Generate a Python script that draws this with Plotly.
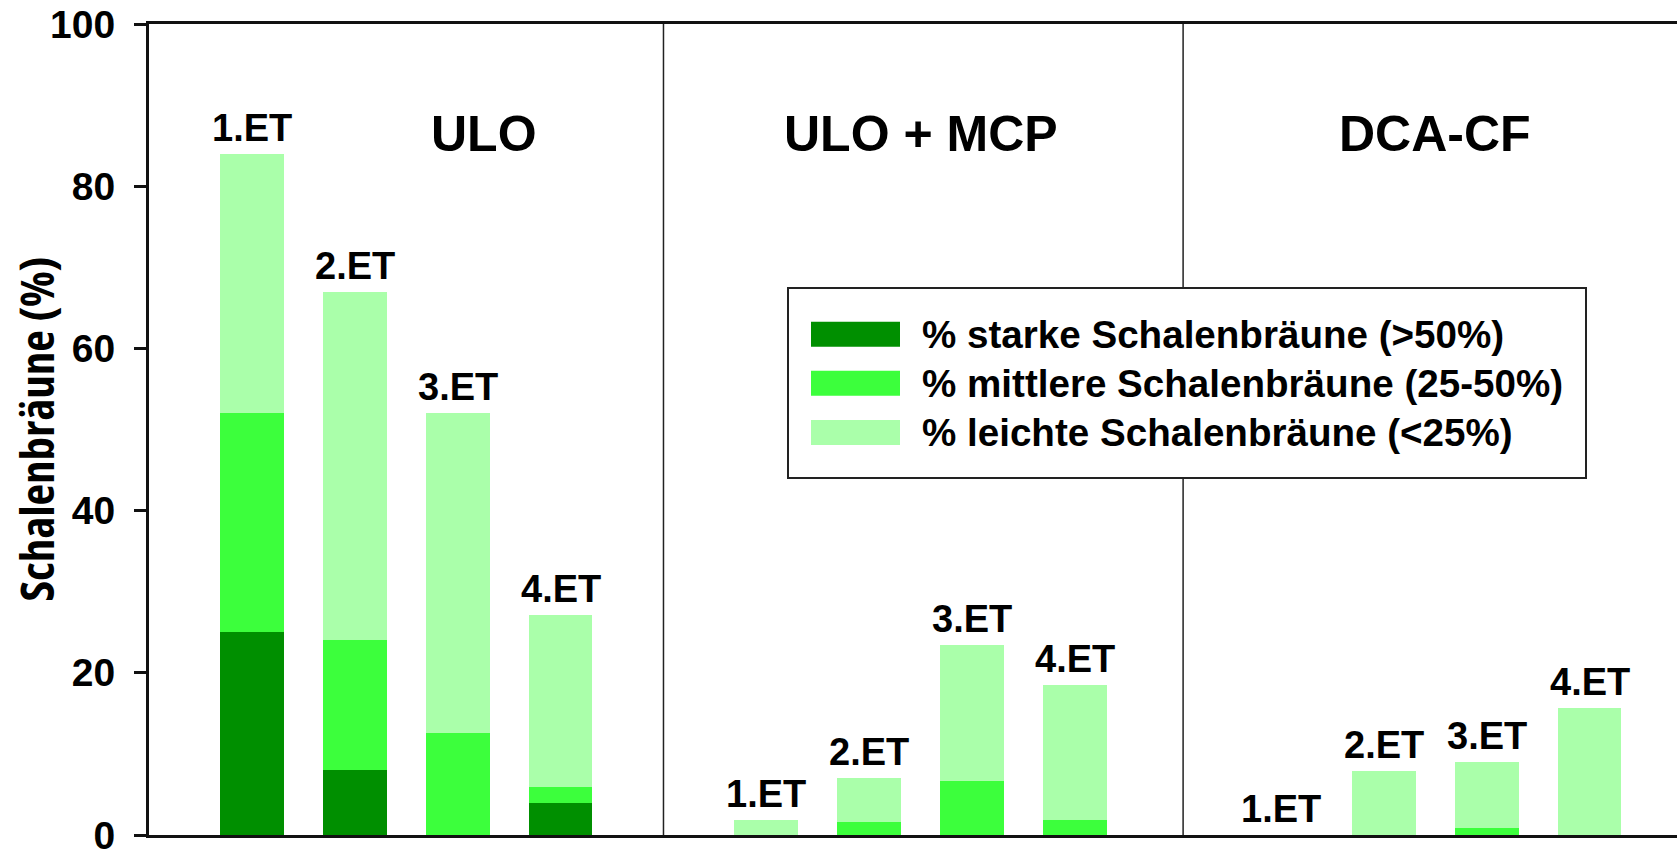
import plotly.graph_objects as go

# Storage groups and the four evaluation dates shown in each group
groups = ["ULO", "ULO + MCP", "DCA-CF"]
stages = ["1.ET", "2.ET", "3.ET", "4.ET"]

# Share of fruit (%) per class, in order ULO 1-4, ULO+MCP 1-4, DCA-CF 1-4
starke = [25.0, 8.0, 0.0, 4.0, 0.0, 0.0, 0.0, 0.0, 0.0, 0.0, 0.0, 0.0]
mittlere = [27.0, 16.0, 12.6, 1.9, 0.0, 1.6, 6.6, 1.9, 0.0, 0.0, 0.9, 0.0]
leichte = [32.0, 43.0, 39.4, 21.2, 1.9, 5.4, 16.8, 16.6, 0.0, 7.9, 8.1, 15.6]

series_names = [
    "% starke Schalenbräune (>50%)",
    "% mittlere Schalenbräune (25-50%)",
    "% leichte Schalenbräune (<25%)",
]
colors = ["#008F00", "#3CFF3C", "#AAFFAA"]

FONT = "Liberation Sans, Arial, Helvetica, sans-serif"
INK = "#111111"

W, H = 1677, 850
ML, MR, MT, MB = 149, 0, 24, 15

# bar slots: four bars per group, one empty slot between groups
xpos = [g * 5 + s for g in range(len(groups)) for s in range(len(stages))]
labels = [st for _ in groups for st in stages]
totals = [a + b + c for a, b, c in zip(starke, mittlere, leichte)]


def px_to_paper_x(px):
    return (px - ML) / (W - ML - MR)


def px_to_paper_y(py):
    return (H - MB - py) / (H - MT - MB)


fig = go.Figure()
for name, vals, col in zip(series_names, [starke, mittlere, leichte], colors):
    fig.add_trace(
        go.Bar(
            x=xpos,
            y=vals,
            name=name,
            width=0.62,
            marker=dict(color=col, line=dict(width=0)),
            showlegend=False,
        )
    )

annotations = []
# stage labels above each stacked bar
for x, t, lab in zip(xpos, totals, labels):
    annotations.append(
        dict(
            x=x, y=t, xref="x", yref="y", text=lab, showarrow=False,
            xanchor="center", yanchor="bottom", yshift=3,
            font=dict(family=FONT, size=38, color="black", weight="bold"),
        )
    )

# group titles
title_x = [2.26, 6.5, 11.5]
for gx, g in zip(title_x, groups):
    annotations.append(
        dict(
            x=gx, y=84.2, xref="x", yref="y", text=g, showarrow=False,
            xanchor="center", yanchor="bottom", yshift=-12,
            font=dict(family=FONT, size=50, color="black", weight="bold"),
        )
    )

# y-axis title, set in a condensed width
annotations.append(
    dict(
        x=px_to_paper_x(35), y=0.5, xref="paper", yref="paper",
        text='<span style="font-stretch:75%">Schalenbräune (%)</span>',
        showarrow=False, textangle=-90,
        xanchor="center", yanchor="middle",
        font=dict(family="Open Sans, Liberation Sans, sans-serif", size=47,
                  color="black", weight="bold"),
    )
)

shapes = []
# separators between storage groups
for sx in [4.0, 9.05]:
    shapes.append(
        dict(type="line", xref="x", yref="paper", x0=sx, x1=sx, y0=0, y1=1,
             line=dict(color="#222222", width=1.5), layer="above")
    )

# legend frame, swatches and entries
shapes.append(
    dict(type="rect", xref="paper", yref="paper",
         x0=px_to_paper_x(788), x1=px_to_paper_x(1586),
         y0=px_to_paper_y(478), y1=px_to_paper_y(288),
         line=dict(color="#222222", width=2), fillcolor="white", layer="above")
)
row_top = [321.7, 370.7, 420.0]
for rt, name, col in zip(row_top, series_names, colors):
    shapes.append(
        dict(type="rect", xref="paper", yref="paper",
             x0=px_to_paper_x(811), x1=px_to_paper_x(900),
             y0=px_to_paper_y(rt + 25), y1=px_to_paper_y(rt),
             line=dict(width=0), fillcolor=col, layer="above")
    )
    annotations.append(
        dict(x=px_to_paper_x(920), y=px_to_paper_y(rt + 12.5),
             xref="paper", yref="paper", text=name, showarrow=False,
             xanchor="left", yanchor="middle",
             font=dict(family=FONT, size=38.6, color="black", weight="bold"))
    )

fig.update_layout(
    width=W, height=H,
    margin=dict(l=ML, r=MR, t=MT, b=MB, pad=0, autoexpand=False),
    barmode="stack",
    plot_bgcolor="white", paper_bgcolor="white",
    font=dict(family=FONT, color="black"),
    annotations=annotations,
    shapes=shapes,
    showlegend=False,
)
fig.update_xaxes(
    range=[-1, 13.85], showticklabels=False, ticks="", showgrid=False,
    zeroline=False, showline=True, mirror=True, linecolor=INK, linewidth=3,
    automargin=False,
)
fig.update_yaxes(
    range=[0, 100], tickvals=[0, 20, 40, 60, 80, 100], showgrid=False,
    zeroline=False, showline=True, linecolor=INK, linewidth=3,
    ticks="outside", ticklen=12, tickwidth=2.5, tickcolor=INK,
    ticklabelstandoff=11, ticklabeloverflow="allow", automargin=False,
    tickfont=dict(family=FONT, size=39, color="black", weight="bold"),
)

fig.write_html("out.html")
